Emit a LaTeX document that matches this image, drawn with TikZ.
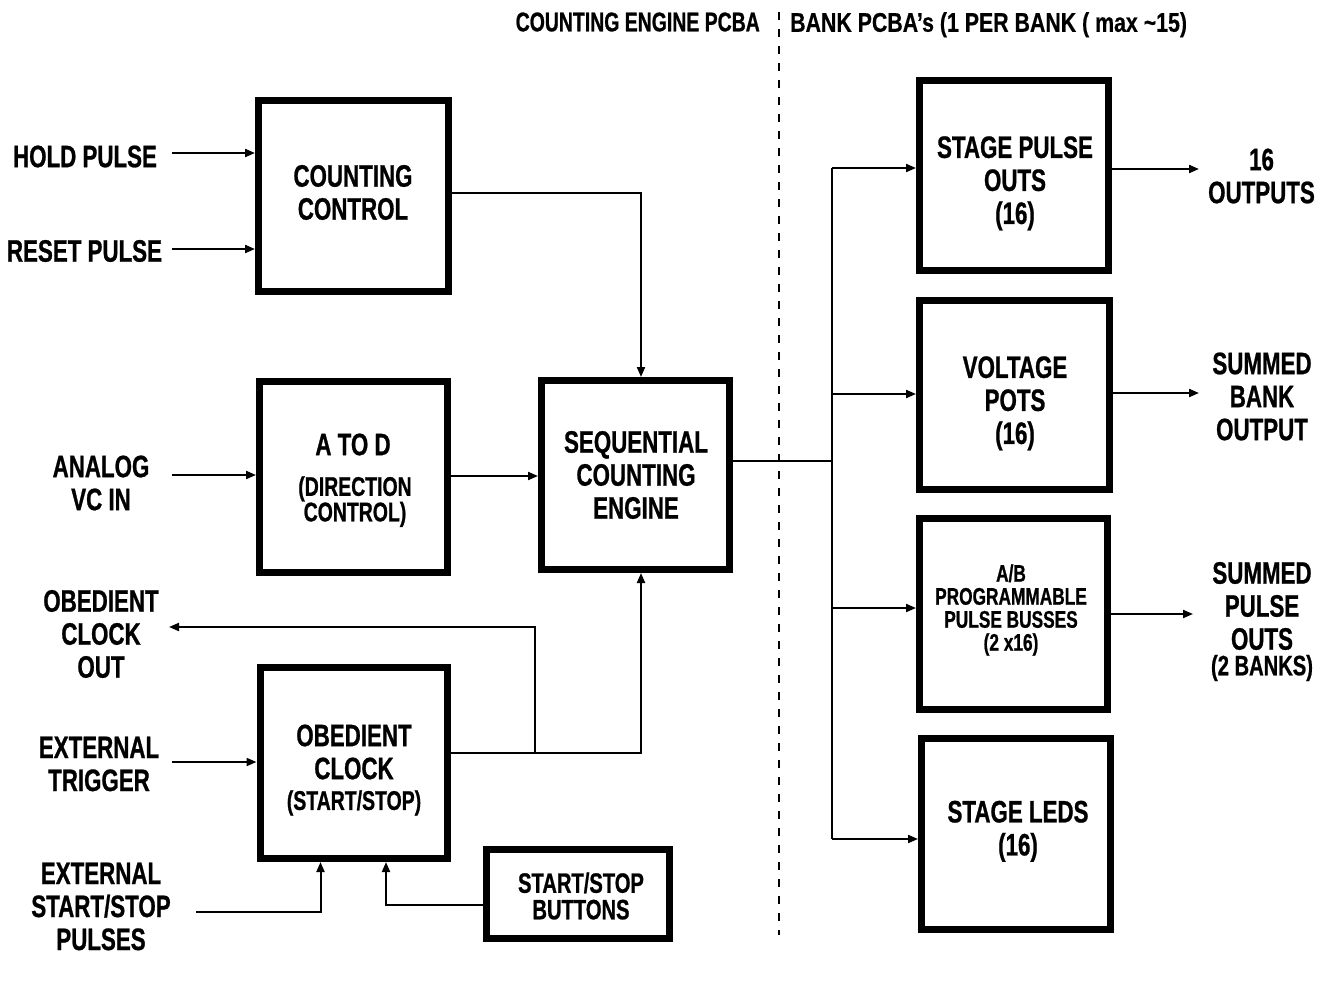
\documentclass[tikz,border=0pt]{standalone}
\usepackage{fontspec}
\setmainfont{Liberation Sans}[FakeStretch=0.72, BoldFeatures={FakeBold=0.8}]
\newfontfamily\hdrwide{Liberation Sans}[FakeStretch=0.79, BoldFeatures={FakeBold=0.4}]
\usetikzlibrary{arrows.meta}
\newcommand\fbig{\fontsize{31}{33}\selectfont\bfseries}
\newcommand\fmid{\fontsize{27}{25.5}\selectfont\bfseries}
\newcommand\fbtn{\fontsize{28}{26.5}\selectfont\bfseries}
\newcommand\fsml{\fontsize{24}{23}\selectfont\bfseries}
\newcommand\fhdr{\fontsize{27}{27}\selectfont\bfseries}
\begin{document}
\begin{tikzpicture}[x=1pt,y=-1pt,
  blk/.style 2 args={draw, line width=7pt, inner sep=0pt, minimum width=#1, minimum height=#2},
  txt/.style={font=\fbig, align=center, inner sep=0pt},
  wire/.style={line width=2pt},
  arr/.style={wire, -{Triangle[length=10pt,width=8pt]}},
  divline/.style={line width=1.8pt, dash pattern=on 8pt off 9pt}]
\useasboundingbox (0,0) rectangle (1328,986);

% header
\node[txt, font=\fhdr, anchor=east] (hl) at (760,22) {COUNTING ENGINE PCBA};
\node[txt, font=\hdrwide\fhdr, anchor=west] (hr) at (790,24.8) {BANK PCBA’s (1 PER BANK ( max \textasciitilde15)};
\coordinate (dtop) at (779,12);
\coordinate (dbot) at (779,935);
\draw[divline] (dtop) -- (dbot);

% blocks
\node[blk={190pt}{191pt}] (cc) at (353.5,196) {};
\node[txt] (cct) at (353,192.5) {COUNTING\\CONTROL};
\node[blk={188pt}{191pt}] (atod) at (353.5,477) {};
\node[txt] (atodt) at (353,444.5) {A TO D};
\node[txt, font=\fmid] (atods) at (355,501.6) {(DIRECTION\\CONTROL)};
\node[blk={188pt}{189pt}] (seq) at (635.5,475) {};
\node[txt] (seqt) at (636,475) {SEQUENTIAL\\COUNTING\\ENGINE};
\node[blk={189pt}{190pt}] (spo) at (1014,175.5) {};
\node[txt] (spot) at (1015,183.3) {STAGE PULSE\\OUTS\\(16)};
\node[blk={190pt}{189pt}] (vp) at (1014.5,395) {};
\node[txt] (vpt) at (1015,403.3) {VOLTAGE\\POTS\\(16)};
\node[blk={188pt}{191pt}] (ab) at (1013.5,614) {};
\node[txt, font=\fsml] (abt) at (1011,610) {A/B\\PROGRAMMABLE\\PULSE BUSSES\\(2 x16)};
\node[blk={189pt}{191pt}] (leds) at (1016,834) {};
\node[txt] (ledst) at (1018,831.3) {STAGE LEDS\\(16)};
\node[blk={187pt}{191pt}] (clk) at (353.5,763) {};
\node[txt] (clkt) at (354,752) {OBEDIENT\\CLOCK};
\node[txt, font=\fmid] (clks) at (354,802.9) {(START/STOP)};
\node[blk={183pt}{89pt}] (btn) at (578,894) {};
\node[txt, font=\fbtn] (btnt) at (581,896) {START/STOP\\BUTTONS};

% outer labels
\node[txt] (hold) at (85,156.5) {HOLD PULSE};
\node[txt] (reset) at (84.5,251) {RESET PULSE};
\node[txt] (analog) at (101,483) {ANALOG\\VC IN};
\node[txt] (clkout) at (101,634) {OBEDIENT\\CLOCK\\OUT};
\node[txt] (trig) at (99,764) {EXTERNAL\\TRIGGER};
\node[txt] (ssp) at (101,906.5) {EXTERNAL\\START/STOP\\PULSES};
\node[txt] (o16) at (1261.5,176) {16\\OUTPUTS};
\node[txt] (sbo) at (1262,396.5) {SUMMED\\BANK\\OUTPUT};
\node[txt] (spuo) at (1262,606) {SUMMED\\PULSE\\OUTS};
\node[txt, font=\fbtn] (banks) at (1262,668) {(2 BANKS)};

% inputs
\coordinate (holdin) at (172,153);
\coordinate (resetin) at (172,249);
\coordinate (analogin) at (172,475);
\coordinate (trigin) at (172,762);
\draw[arr] (holdin) -- (holdin -| cc.west);
\draw[arr] (resetin) -- (resetin -| cc.west);
\draw[arr] (analogin) -- (analogin -| atod.west);
\draw[arr] (trigin) -- (trigin -| clk.west);

% counting control to engine
\coordinate (ccbend) at (641,193);
\draw[arr] (cc.east |- ccbend) -- (ccbend) -- (ccbend |- seq.north);
% a to d to engine
\coordinate (adl) at (0,476);
\draw[arr] (atod.east |- adl) -- (seq.west |- adl);

% clock to engine and clock out
\coordinate (cj) at (641,753);
\draw[arr] (clk.east |- cj) -- (cj) -- (cj |- seq.south);
\coordinate (cb) at (535,753);
\coordinate (cobend) at (535,627);
\coordinate (coend) at (169,627);
\draw[arr] (cb) -- (cobend) -- (coend);

% start/stop inputs
\coordinate (sspin) at (196,912);
\coordinate (sspx) at (320.5,912);
\draw[arr] (sspin) -- (sspx) -- (sspx |- clk.south);
\coordinate (btx) at (386,905);
\draw[arr] (btn.west |- btx) -- (btx) -- (btx |- clk.south);

% bus to bank boards
\coordinate (bus) at (832,461);
\coordinate (b1) at (832,168);
\coordinate (b2) at (832,394);
\coordinate (b3) at (832,608);
\coordinate (b4) at (832,839);
\draw[wire] (seq.east |- bus) -- (bus);
\draw[wire] (b1) -- (b4);
\draw[arr] (b1) -- (b1 -| spo.west);
\draw[arr] (b2) -- (b2 -| vp.west);
\draw[arr] (b3) -- (b3 -| ab.west);
\draw[arr] (b4) -- (b4 -| leds.west);

% outputs
\coordinate (o1) at (1199,169);
\coordinate (o2) at (1199,393);
\coordinate (o3) at (1193,614);
\draw[arr] (o1 -| spo.east) -- (o1);
\draw[arr] (o2 -| vp.east) -- (o2);
\draw[arr] (o3 -| ab.east) -- (o3);
\end{tikzpicture}
\end{document}
